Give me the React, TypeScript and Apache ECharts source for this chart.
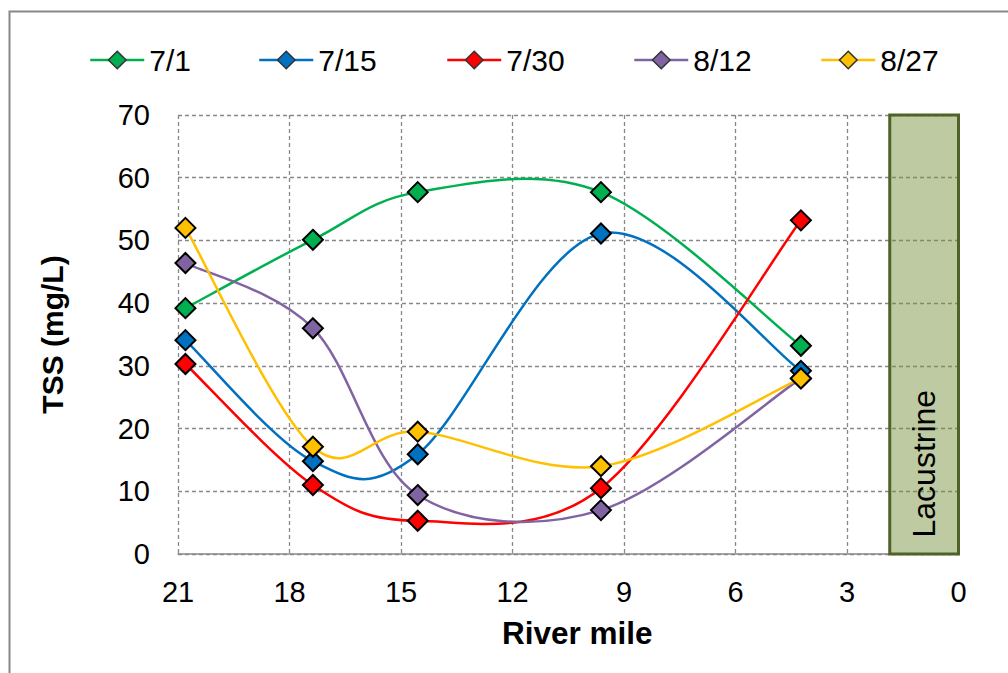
import React, { useEffect, useRef } from "react";
import * as echarts from "echarts";

const riverMiles = [20.8, 17.37, 14.55, 9.62, 4.24];
const seriesNames = ["7/1", "7/15", "7/30", "8/12", "8/27"];
const tss71 = [39.2, 50.1, 57.7, 57.7, 33.2];
const tss715 = [34.1, 14.8, 15.9, 51.1, 29.2];
const tss730 = [30.3, 11.0, 5.3, 10.5, 53.2];
const tss812 = [46.4, 36.0, 9.4, 7.0, 28.0];
const tss827 = [52.0, 17.1, 19.5, 14.0, 28.0];
const seriesValues = [tss71, tss715, tss730, tss812, tss827];
const seriesColors = ["#00b050", "#0070c0", "#ff0000", "#8064a2", "#ffc000"];
const legendLefts = [89, 258, 446, 633, 820];
const lacustrineRange = [1.85, 0];

const FONT = "'Liberation Sans', Arial, sans-serif";
const LINE_W = 2.5;

function makeSmoothSeries(vals: number[], color: string, z: number) {
  return {
    type: "custom",
    z,
    silent: true,
    data: riverMiles.map((x, j) => [x, vals[j]]),
    encode: { x: 0, y: 1 },
    renderItem: (params: any, api: any) => {
      const i = params.dataIndex;
      if (i === 0) return { type: "group", children: [] };
      const pts = riverMiles.map((x, j) => api.coord([x, vals[j]]));
      const p1 = pts[i - 1];
      const p2 = pts[i];
      const p0 = i - 2 >= 0 ? pts[i - 2] : p1;
      const p3 = i + 1 < pts.length ? pts[i + 1] : p2;
      const k = 1 / 6;
      return {
        type: "bezierCurve",
        shape: {
          x1: p1[0],
          y1: p1[1],
          x2: p2[0],
          y2: p2[1],
          cpx1: p1[0] + (p2[0] - p0[0]) * k,
          cpy1: p1[1] + (p2[1] - p0[1]) * k,
          cpx2: p2[0] - (p3[0] - p1[0]) * k,
          cpy2: p2[1] - (p3[1] - p1[1]) * k,
        },
        style: { stroke: color, lineWidth: LINE_W, fill: null },
      };
    },
  };
}

export default function App() {
  const ref = useRef<HTMLDivElement>(null);
  useEffect(() => {
    if (!ref.current) return;
    const chart = echarts.init(ref.current, null, { renderer: "svg" });
    const curves: any[] = seriesNames.map((_, i) => makeSmoothSeries(seriesValues[i], seriesColors[i], 2 + i * 0.01));
    const markers: any[] = seriesNames.map((name, i) => ({
      name,
      type: "line",
      symbol: "diamond",
      symbolSize: 20,
      data: riverMiles.map((x, j) => [x, seriesValues[i][j]]),
      lineStyle: { color: seriesColors[i], width: LINE_W, opacity: 0 },
      itemStyle: { color: seriesColors[i], borderColor: "#000", borderWidth: 2 },
      z: 3 + i * 0.01,
    }));
    markers[0].markArea = {
      silent: true,
      itemStyle: { color: "rgba(119,147,60,0.48)", borderColor: "#4f6228", borderWidth: 3 },
      label: {
        show: true,
        position: "insideBottom",
        rotate: 90,
        align: "left",
        verticalAlign: "middle",
        distance: 18,
        color: "#000",
        fontFamily: FONT,
        fontSize: 32,
      },
      data: [[{ name: "Lacustrine", coord: [lacustrineRange[0], 0] }, { coord: [lacustrineRange[1], 70] }]],
    };
    chart.setOption({
      animation: false,
      backgroundColor: "#fff",
      textStyle: { fontFamily: FONT },
      legend: seriesNames.map((n, i) => ({
        data: [
          {
            name: n,
            lineStyle: { color: seriesColors[i], width: LINE_W, opacity: 1 },
            itemStyle: { color: seriesColors[i], borderColor: "#333", borderWidth: 1.5 },
          },
        ],
        left: legendLefts[i],
        top: 45,
        padding: 0,
        itemWidth: 54,
        itemHeight: 22,
        selectedMode: false,
        textStyle: { fontSize: 30, color: "#000", fontFamily: FONT },
      })),
      grid: { left: 178, right: 49.5, top: 115, bottom: 119 },
      xAxis: {
        type: "value",
        inverse: true,
        min: 0,
        max: 21,
        interval: 3,
        name: "River mile",
        nameLocation: "middle",
        nameGap: 63,
        nameTextStyle: { fontSize: 31.5, fontWeight: "bold", color: "#000", fontFamily: FONT, padding: [0, 0, 0, 18] },
        axisLine: { show: true, lineStyle: { color: "#888", width: 1.5 } },
        axisTick: { show: false },
        axisLabel: { fontSize: 29, color: "#000", margin: 23, fontFamily: FONT },
        splitLine: { show: true, lineStyle: { color: "#888", type: [4, 3], width: 1.3 } },
      },
      yAxis: {
        type: "value",
        min: 0,
        max: 70,
        interval: 10,
        name: "TSS (mg/L)",
        nameLocation: "middle",
        nameRotate: 90,
        nameGap: 111,
        nameTextStyle: { fontSize: 30, fontWeight: "bold", color: "#000", fontFamily: FONT },
        axisLine: { show: false },
        axisTick: { show: false },
        axisLabel: { fontSize: 29, color: "#000", margin: 28, fontFamily: FONT },
        splitLine: { show: true, lineStyle: { color: "#888", type: [4, 3], width: 1.3 } },
      },
      graphic: [
        {
          type: "rect",
          left: 7,
          top: 9,
          shape: { width: 1010, height: 670 },
          style: { fill: "none", stroke: "#888", lineWidth: 2 },
          silent: true,
        },
      ],
      series: [...curves, ...markers],
    });
    return () => chart.dispose();
  }, []);
  return <div ref={ref} style={{ position: "fixed", left: 0, top: 0, width: 1008, height: 673 }} />;
}
